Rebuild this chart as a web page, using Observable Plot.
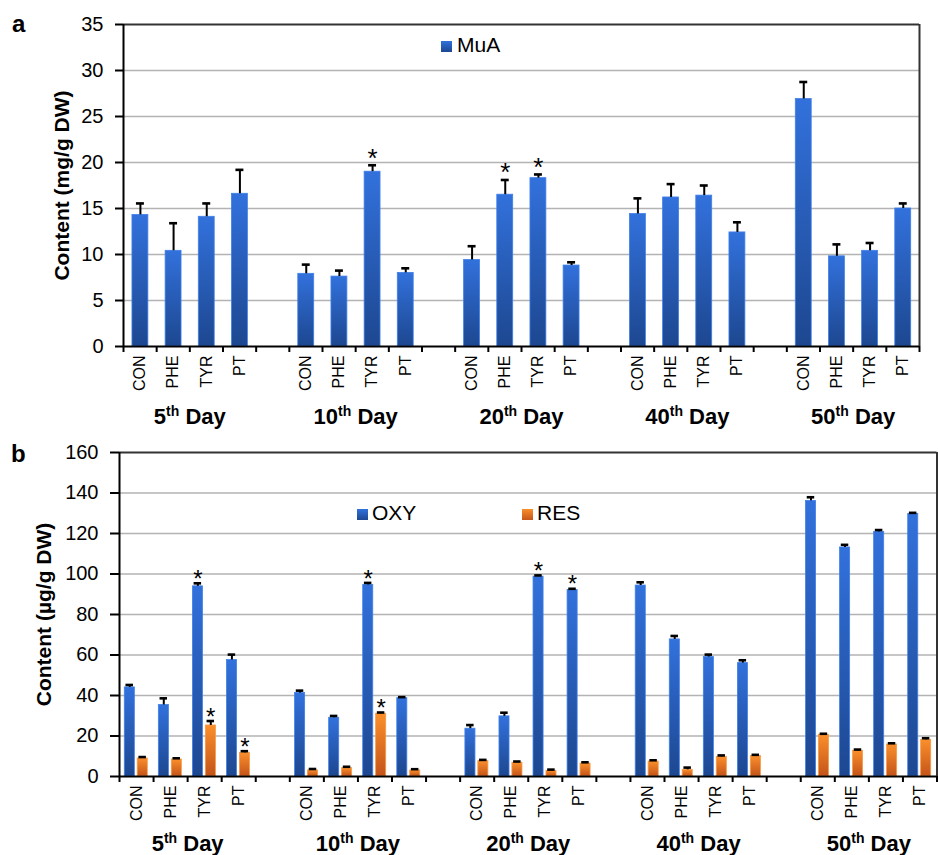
<!DOCTYPE html>
<html>
<head>
<meta charset="utf-8">
<script src="https://cdn.jsdelivr.net/npm/d3@7"></script>
<script src="https://cdn.jsdelivr.net/npm/@observablehq/plot@0.6"></script>
<style>
  html, body { margin: 0; padding: 0; background: #fff; }
  #wrap { position: relative; width: 938px; height: 855px; font-family: "Liberation Sans", Arial, sans-serif; }
  #wrap svg { display: block; }
  .ov { position: absolute; line-height: 1; white-space: nowrap; color: #000; }
  .sq { position: absolute; width: 11px; height: 11px; }
  .blue { background: linear-gradient(#3271dc, #1d4790); }
  .orange { background: linear-gradient(#f98e2a, #c5561b); }
</style>
</head>
<body>
<div id="wrap"></div>
<script>
// ---------- data ----------
const days = ["5th Day", "10th Day", "20th Day", "40th Day", "50th Day"];
const treatments = ["CON", "PHE", "TYR", "PT"];

// Panel a: MuA (mg/g DW)
const muaMean = [[14.3, 10.4, 14.1, 16.6], [7.9, 7.6, 19.0, 8.0], [9.4, 16.5, 18.3, 8.8], [14.4, 16.2, 16.4, 12.4], [26.9, 9.8, 10.4, 15.0]];
const muaSD   = [[1.25, 3.0, 1.45, 2.6], [1.0, 0.65, 0.7, 0.5], [1.5, 1.6, 0.4, 0.35], [1.7, 1.45, 1.1, 1.1], [1.85, 1.3, 0.85, 0.55]];
const muaSig  = [[0, 0, 0, 0], [0, 0, 1, 0], [0, 1, 1, 0], [0, 0, 0, 0], [0, 0, 0, 0]];

// Panel b: OXY and RES (µg/g DW)
const oxyMean = [[44.0, 35.3, 93.9, 57.5], [41.2, 29.0, 94.6, 38.7], [23.6, 29.7, 98.7, 92.1], [94.3, 67.7, 59.0, 56.0], [136.1, 113.1, 120.8, 129.7]];
const oxySD   = [[1.2, 3.3, 1.5, 2.7], [1.2, 0.9, 1.0, 0.5], [1.8, 1.8, 0.6, 0.6], [1.6, 1.7, 1.2, 1.4], [1.8, 1.3, 0.9, 0.5]];
const oxySig  = [[0, 0, 1, 0], [0, 0, 1, 0], [0, 0, 1, 1], [0, 0, 0, 0], [0, 0, 0, 0]];
const resMean = [[8.9, 8.4, 25.2, 11.7], [3.0, 4.1, 31.0, 3.0], [7.6, 6.8, 2.8, 6.4], [7.4, 3.3, 9.7, 10.1], [20.6, 12.7, 15.8, 18.1]];
const resSD   = [[0.7, 0.6, 2.2, 0.8], [0.7, 0.7, 0.6, 0.6], [0.6, 0.6, 0.6, 0.6], [0.6, 1.1, 0.7, 0.6], [0.5, 0.6, 0.6, 0.8]];
const resSig  = [[0, 0, 1, 1], [0, 0, 1, 0], [0, 0, 0, 0], [0, 0, 0, 0], [0, 0, 0, 0]];

const yTicksA = [0, 5, 10, 15, 20, 25, 30, 35];
const yTicksB = [0, 20, 40, 60, 80, 100, 120, 140, 160];

// ---------- build rows ----------
const slotsPerGroup = treatments.length + 1;
const nSlots = days.length * slotsPerGroup - 1;
function rows(mean, sd, sig) {
  return days.flatMap((d, g) => treatments.map((t, k) => ({
    day: d, trt: t, slot: g * slotsPerGroup + k,
    mean: mean[g][k], hi: mean[g][k] + sd[g][k], sig: !!sig[g][k]
  })));
}
const rowsA = rows(muaMean, muaSD, muaSig);
const rowsOxy = rows(oxyMean, oxySD, oxySig);
const rowsRes = rows(resMean, resSD, resSig);
const dayRows = days.map((d, g) => ({day: d, center: g * slotsPerGroup + treatments.length / 2}));

const font = "'Liberation Sans', Arial, sans-serif";

function defs(svg) {
  const ns = "http://www.w3.org/2000/svg";
  const el = document.createElementNS(ns, "defs");
  el.innerHTML = `
    <linearGradient id="gBlue" x1="0" y1="0" x2="0" y2="1">
      <stop offset="0" stop-color="#3271dc"/><stop offset="1" stop-color="#1d4790"/>
    </linearGradient>
    <linearGradient id="gOrange" x1="0" y1="0" x2="0" y2="1">
      <stop offset="0" stop-color="#fb8f2b"/><stop offset="1" stop-color="#c4541a"/>
    </linearGradient>`;
  svg.insertBefore(el, svg.firstChild);
}
function superscriptDays(svg, fs) {
  svg.querySelectorAll("text").forEach(t => {
    if (t.children.length) return;
    const m = (t.textContent || "").match(/^(\d+)(th)\s(Day)$/);
    if (!m) return;
    t.textContent = "";
    const ns = "http://www.w3.org/2000/svg";
    const a = document.createElementNS(ns, "tspan"); a.textContent = m[1];
    const b = document.createElementNS(ns, "tspan"); b.textContent = m[2];
    b.setAttribute("font-size", fs); b.setAttribute("dy", "-8");
    const c = document.createElementNS(ns, "tspan"); c.textContent = " " + m[3];
    c.setAttribute("dy", "8");
    t.append(a, b, c);
  });
}

const wrap = document.getElementById("wrap");

// ---------- panel a ----------
const plotA = Plot.plot({
  width: 938, height: 432,
  marginLeft: 123, marginRight: 19, marginTop: 24, marginBottom: 86,
  style: {fontFamily: font, fontSize: "20px", background: "#fff", color: "#000"},
  x: {domain: [0, nSlots]},
  y: {domain: [0, 35]},
  marks: [
    Plot.ruleY(yTicksA.slice(1, -1), {stroke: "#b3b3b3", strokeWidth: 1.6}),
    Plot.rect(rowsA, {x1: d => d.slot + 0.27, x2: d => d.slot + 0.75, y1: 0, y2: "mean", fill: "url(#gBlue)", stroke: "#3f80ea", strokeWidth: 0.8}),
    Plot.ruleX(rowsA, {x: d => d.slot + 0.51, y1: "mean", y2: "hi", stroke: "#000", strokeWidth: 2}),
    Plot.ruleY(rowsA, {y: "hi", x1: d => d.slot + 0.39, x2: d => d.slot + 0.63, stroke: "#000", strokeWidth: 2.6}),
    Plot.text(rowsA.filter(d => d.sig), {x: d => d.slot + 0.51, y: "hi", text: () => "*", fontSize: 26, dy: -7}),
    Plot.ruleY([35], {stroke: "#333", strokeWidth: 2}),
    Plot.ruleX([nSlots], {stroke: "#333", strokeWidth: 2}),
    Plot.axisY(yTicksA, {tickSize: 8, tickPadding: 12, strokeWidth: 2, label: null, fontSize: 20}),
    Plot.axisX(d3.range(nSlots + 1), {tickSize: 6, strokeWidth: 2, tickFormat: () => "", label: null}),
    Plot.ruleX([0], {stroke: "#000", strokeWidth: 2}),
    Plot.ruleY([0], {stroke: "#000", strokeWidth: 2}),
    Plot.text(rowsA, {x: d => d.slot + 0.5, y: 0, text: "trt", rotate: -90, textAnchor: "end", dy: 9, fontSize: 16}),
    Plot.text(dayRows, {x: "center", y: 0, text: "day", dy: 70, fontSize: 22, fontWeight: "bold"}),
    Plot.text(["Content (mg/g DW)"], {frameAnchor: "left", textAnchor: "middle", rotate: -90, dx: -61, fontSize: 21, fontWeight: "bold"})
  ]
});
defs(plotA);
superscriptDays(plotA, 14);
wrap.appendChild(plotA);

// ---------- panel b ----------
const plotB = Plot.plot({
  width: 938, height: 423,
  marginLeft: 119, marginRight: 1.5, marginTop: 20, marginBottom: 79,
  style: {fontFamily: font, fontSize: "20px", background: "#fff", color: "#000"},
  x: {domain: [0, nSlots]},
  y: {domain: [0, 160]},
  marks: [
    Plot.ruleY(yTicksB.slice(1, -1), {stroke: "#b3b3b3", strokeWidth: 1.6}),
    Plot.rect(rowsOxy, {x1: d => d.slot + 0.155, x2: d => d.slot + 0.45, y1: 0, y2: "mean", fill: "url(#gBlue)", stroke: "#3f80ea", strokeWidth: 0.8}),
    Plot.rect(rowsRes, {x1: d => d.slot + 0.535, x2: d => d.slot + 0.83, y1: 0, y2: "mean", fill: "url(#gOrange)", stroke: "#f59a45", strokeWidth: 0.8}),
    Plot.ruleX(rowsOxy, {x: d => d.slot + 0.30, y1: "mean", y2: "hi", stroke: "#000", strokeWidth: 2}),
    Plot.ruleY(rowsOxy, {y: "hi", x1: d => d.slot + 0.19, x2: d => d.slot + 0.41, stroke: "#000", strokeWidth: 2.6}),
    Plot.ruleX(rowsRes, {x: d => d.slot + 0.68, y1: "mean", y2: "hi", stroke: "#000", strokeWidth: 2}),
    Plot.ruleY(rowsRes, {y: "hi", x1: d => d.slot + 0.57, x2: d => d.slot + 0.79, stroke: "#000", strokeWidth: 2.6}),
    Plot.text(rowsOxy.filter(d => d.sig), {x: d => d.slot + 0.30, y: "hi", text: () => "*", fontSize: 24, dy: -4}),
    Plot.text(rowsRes.filter(d => d.sig), {x: d => d.slot + 0.68, y: "hi", text: () => "*", fontSize: 24, dy: -4}),
    Plot.ruleY([160], {stroke: "#333", strokeWidth: 2}),
    Plot.ruleX([nSlots], {stroke: "#333", strokeWidth: 2}),
    Plot.axisY(yTicksB, {tickSize: 9, tickPadding: 12, strokeWidth: 2, label: null, fontSize: 20}),
    Plot.axisX(d3.range(nSlots + 1), {tickSize: 6, strokeWidth: 2, tickFormat: () => "", label: null}),
    Plot.ruleX([0], {stroke: "#000", strokeWidth: 2}),
    Plot.ruleY([0], {stroke: "#000", strokeWidth: 2}),
    Plot.text(rowsOxy, {x: d => d.slot + 0.5, y: 0, text: "trt", rotate: -90, textAnchor: "end", dy: 9, fontSize: 16}),
    Plot.text(dayRows, {x: "center", y: 0, text: "day", dy: 67, fontSize: 22, fontWeight: "bold"}),
    Plot.text(["Content (µg/g DW)"], {frameAnchor: "left", textAnchor: "middle", rotate: -90, dx: -75, fontSize: 21, fontWeight: "bold"})
  ]
});
defs(plotB);
superscriptDays(plotB, 14);
wrap.appendChild(plotB);

// ---------- panel letters & legends (overlay) ----------
function ov(txt, left, top, size, weight) {
  const d = document.createElement("div");
  d.className = "ov";
  d.style.left = left + "px"; d.style.top = top + "px";
  d.style.fontSize = size + "px"; d.style.fontWeight = weight || "normal";
  d.textContent = txt;
  wrap.appendChild(d);
}
function sq(cls, left, top) {
  const d = document.createElement("div");
  d.className = "sq " + cls;
  d.style.left = left + "px"; d.style.top = top + "px";
  wrap.appendChild(d);
}
ov("a", 12, 12, 24, "bold");
ov("b", 11, 442, 24, "bold");
sq("blue", 441, 41); ov("MuA", 457, 34, 21);
sq("blue", 357, 509); ov("OXY", 372, 502, 21);
sq("orange", 522, 509); ov("RES", 537, 502, 21);
</script>
</body>
</html>
